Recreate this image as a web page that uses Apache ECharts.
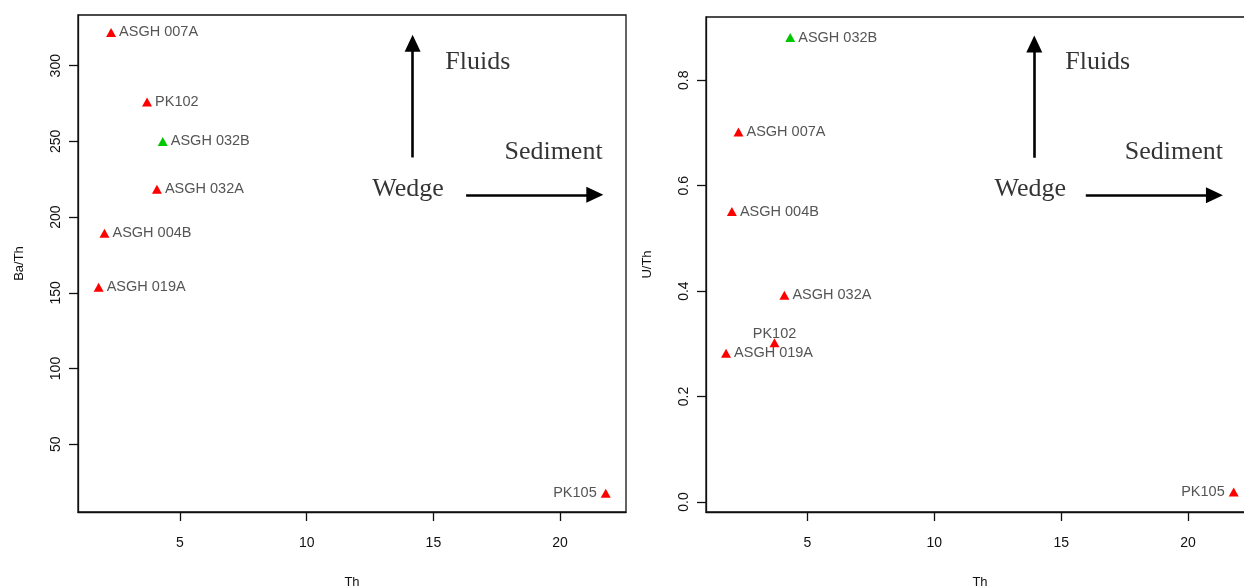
<!DOCTYPE html>
<html>
<head>
<meta charset="utf-8">
<script src="https://cdn.jsdelivr.net/npm/echarts@6/dist/echarts.min.js"></script>
<style>
html,body{margin:0;padding:0;background:#fff;overflow:hidden;}
#chart{width:1244px;height:586px;}
</style>
</head>
<body>
<div id="chart"></div>
<script>
// ---- data ----
const samples = ['ASGH 007A', 'PK102', 'ASGH 032B', 'ASGH 032A', 'ASGH 004B', 'ASGH 019A', 'PK105'];
const th      = [2.28, 3.70, 4.32, 4.09, 2.02, 1.79, 21.8];
const baTh    = [322, 276, 250, 218.4, 189.3, 153.6, 17.6];
const uTh     = [0.702, 0.302, 0.881, 0.392, 0.551, 0.282, 0.019];
const greenSamples = ['ASGH 032B'];

const xTicks = [5, 10, 15, 20];
const baTicks = [50, 100, 150, 200, 250, 300];
const uTicks = [0, 0.2, 0.4, 0.6, 0.8];

// annotation arrows (start, head centre) and texts in data units
const leftArrows  = [[[14.18, 239.4], [14.18, 314.9]], [[16.29, 214.7], [21.37, 214.7]]];
const rightArrows = [[[13.94, 0.653], [13.94, 0.869]], [[15.97, 0.582], [21.04, 0.582]]];
const annTexts = ['Fluids', 'Sediment', 'Wedge'];
const leftAnnPos  = [[16.75, 302.6], [19.74, 243.1], [14.0, 218.6]];
const rightAnnPos = [[16.44, 0.834], [19.44, 0.663], [13.78, 0.594]];

// ---- styling ----
const SANS = "'Liberation Sans', Arial, sans-serif";
const SERIF = "'Liberation Serif', 'Times New Roman', serif";
const leftLabelPos  = {'PK105': ['left', 4]};
const rightLabelPos = {'PK105': ['left', 4], 'PK102': ['top', -3]};

function pointData(yvals, posMap) {
  return samples.map((s, i) => {
    const p = posMap[s] || ['right', 3];
    return {
      value: [th[i], yvals[i]],
      name: s,
      itemStyle: {color: greenSamples.includes(s) ? '#00C800' : '#FF0000', opacity: 1},
      label: {position: p[0], distance: p[1]}
    };
  });
}

function xAxisCfg(gi, min, max) {
  return {
    type: 'value', gridIndex: gi, min: min, max: max,
    name: 'Th', nameLocation: 'middle', nameGap: 64,
    nameTextStyle: {fontFamily: SANS, fontSize: 13, color: '#111'},
    axisLine: {show: true, onZero: false, lineStyle: {color: '#111', width: 1.3}},
    axisTick: {show: true, inside: false, length: 9, customValues: xTicks, lineStyle: {color: '#111', width: 1.3}},
    axisLabel: {show: true, margin: 24, customValues: xTicks, fontFamily: SANS, fontSize: 14, color: '#111'},
    splitLine: {show: false}
  };
}
function yAxisCfg(gi, min, max, ticks, name, fmt, gap) {
  return {
    type: 'value', gridIndex: gi, min: min, max: max,
    name: name, nameLocation: 'middle', nameGap: gap, nameRotate: 90,
    nameTextStyle: {fontFamily: SANS, fontSize: 13, color: '#111'},
    axisLine: {show: true, onZero: false, lineStyle: {color: '#111', width: 1.3}},
    axisTick: {show: true, inside: false, length: 9, customValues: ticks, lineStyle: {color: '#111', width: 1.3}},
    axisLabel: {show: true, rotate: 90, margin: 15, customValues: ticks, formatter: fmt,
                fontFamily: SANS, fontSize: 14, color: '#111'},
    splitLine: {show: false}
  };
}

function arrowLines(arrows) {
  return arrows.map(a => [{coord: a[0]}, {coord: a[1]}]);
}
function annSeries(xi, pos) {
  return {
    type: 'scatter', xAxisIndex: xi, yAxisIndex: xi, symbolSize: 0, silent: true,
    data: annTexts.map((t, i) => ({value: pos[i], name: t})),
    label: {show: true, position: 'inside', formatter: '{b}', fontFamily: SERIF, fontSize: 26, color: '#000'},
    z: 1
  };
}

const chart = echarts.init(document.getElementById('chart'), null, {renderer: 'canvas'});
chart.setOption({
  animation: false,
  backgroundColor: '#fff',
  grid: [
    {left: 78, top: 15, width: 548, height: 497, show: true, borderColor: '#111', borderWidth: 1.3,
     backgroundColor: 'transparent', containLabel: false, outerBoundsMode: 'none'},
    {left: 706, top: 17, width: 548, height: 495, show: true, borderColor: '#111', borderWidth: 1.3,
     backgroundColor: 'transparent', containLabel: false, outerBoundsMode: 'none'}
  ],
  xAxis: [xAxisCfg(0, 0.975, 22.6), xAxisCfg(1, 1.0, 22.6)],
  yAxis: [
    yAxisCfg(0, 5.2, 333.5, baTicks, 'Ba/Th', v => String(v), 52),
    yAxisCfg(1, -0.019, 0.920, uTicks, 'U/Th', v => Number(v).toFixed(1), 52)
  ],
  series: [
    {
      type: 'scatter', xAxisIndex: 0, yAxisIndex: 0, symbol: 'triangle', symbolSize: [10, 9],
      data: pointData(baTh, leftLabelPos),
      label: {show: true, formatter: '{b}', fontFamily: SANS, fontSize: 14.5, color: '#555'},
      markLine: {
        silent: true, symbol: ['none', 'triangle'], symbolSize: [16, 17], precision: 4,
        label: {show: false}, lineStyle: {color: '#000', width: 2.6, type: 'solid', opacity: 1},
        itemStyle: {color: '#000'},
        emphasis: {disabled: true},
        data: arrowLines(leftArrows)
      },
      z: 3
    },
    {
      type: 'scatter', xAxisIndex: 1, yAxisIndex: 1, symbol: 'triangle', symbolSize: [10, 9],
      data: pointData(uTh, rightLabelPos),
      label: {show: true, formatter: '{b}', fontFamily: SANS, fontSize: 14.5, color: '#555'},
      markLine: {
        silent: true, symbol: ['none', 'triangle'], symbolSize: [16, 17], precision: 4,
        label: {show: false}, lineStyle: {color: '#000', width: 2.6, type: 'solid', opacity: 1},
        itemStyle: {color: '#000'},
        emphasis: {disabled: true},
        data: arrowLines(rightArrows)
      },
      z: 3
    },
    annSeries(0, leftAnnPos),
    annSeries(1, rightAnnPos)
  ]
});
</script>
</body>
</html>
